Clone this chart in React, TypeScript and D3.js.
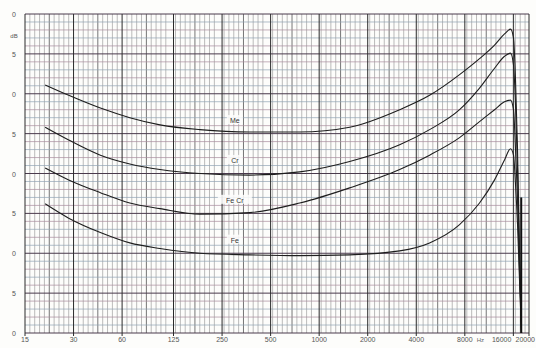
import React, { useEffect, useRef } from 'react';
import * as d3 from 'd3';

// frequency grid points (Hz) shared by the four traces
const freqs = [20, 28, 44, 67, 103, 182, 371, 758, 1546, 3155, 4838, 7422, 9870, 12230, 14100, 15360, 16030, 16500, 16980, 17460, 17970];
const meDb = [31.1, 29.8, 28.2, 27.0, 26.1, 25.5, 25.2, 25.2, 25.8, 28.0, 29.8, 32.4, 34.4, 36.1, 37.5, 38.1, 37.0, 31.7, 23.0, 10.4, 0];
const crDb = [25.8, 24.2, 22.3, 21.2, 20.5, 20.0, 19.8, 20.2, 21.5, 23.6, 25.5, 28.0, 30.7, 33.2, 34.7, 35.1, 33.6, 28.6, 20.5, 9.2, 0];
const feCrDb = [20.7, 19.2, 17.6, 16.3, 15.6, 14.9, 15.1, 16.3, 18.2, 20.5, 22.3, 24.5, 26.5, 28.0, 29.0, 29.2, 28.0, 23.0, 16.7, 7.9, 0];
const feDb = [16.2, 14.4, 12.6, 11.3, 10.6, 10.0, 9.8, 9.7, 9.8, 10.3, 11.3, 13.6, 16.3, 19.2, 21.7, 23.1, 22.3, 18.6, 13.6, 6.7, 0];

const seriesNames = ['Me', 'Cr', 'Fe Cr', 'Fe'];
const labelFreq = 300;
const labelDb = [26.7, 21.7, 16.7, 11.7];

const xTicks = [15, 30, 60, 125, 250, 500, 1000, 2000, 4000, 8000, 16000, 20000];
const xTickLabels = ['15', '30', '60', '125', '250', '500', '1000', '2000', '4000', '8000', '16000', '20000'];
const yTicks = [40, 35, 30, 25, 20, 15, 10, 5, 0];
const yTickLabels = ['0', '5', '0', '5', '0', '5', '0', '5', '0'];

// pen scribble at the top end of the paper
const tailFreq = 17900;
const tailTopDb = 17;

const App = () => {
  const chartRef = useRef<SVGSVGElement>(null);

  useEffect(() => {
    const svg = d3.select(chartRef.current);
    svg.selectAll('*').remove();

    const x = d3.scaleLog().domain([15, 20000]).range([25, 529]);
    const y = d3.scaleLinear().domain([0, 40]).range([333, 14]);

    svg.append('rect').attr('width', 536).attr('height', 348).attr('fill', '#fdfdfb');

    const grid = svg.append('g');

    // minor vertical lines, 10 per octave
    const minorF: number[] = [];
    for (let o = 0; o < 11; o++) {
      for (let k = 1; k < 10; k++) {
        const f = 15 * Math.pow(2, o + k / 10);
        if (f < 20000) minorF.push(f);
      }
    }
    grid
      .selectAll('line.vminor')
      .data(minorF)
      .enter()
      .append('line')
      .attr('x1', (d) => x(d))
      .attr('x2', (d) => x(d))
      .attr('y1', y(40))
      .attr('y2', y(0))
      .attr('stroke', (d, i) => (i % 9 === 4 ? '#666' : '#8f8f8f'))
      .attr('stroke-width', (d, i) => (i % 9 === 4 ? 0.9 : 0.6));

    // horizontal 1 dB lines
    grid
      .selectAll('line.h')
      .data(d3.range(0, 41))
      .enter()
      .append('line')
      .attr('x1', x(15))
      .attr('x2', x(20000))
      .attr('y1', (d) => y(d))
      .attr('y2', (d) => y(d))
      .attr('stroke', (d) => (d % 5 === 0 ? '#4a3a4c' : d % 2 === 0 ? '#a98c9d' : '#91a3b5'))
      .attr('stroke-width', (d) => (d % 5 === 0 ? 1 : 0.7));

    // octave lines
    grid
      .selectAll('line.vmajor')
      .data(xTicks)
      .enter()
      .append('line')
      .attr('x1', (d) => x(d))
      .attr('x2', (d) => x(d))
      .attr('y1', y(40))
      .attr('y2', y(0) + 3)
      .attr('stroke', '#2a2a2a')
      .attr('stroke-width', 1);

    // axis labels
    const last = xTicks.length - 1;
    svg
      .selectAll('text.xl')
      .data(xTicks)
      .enter()
      .append('text')
      .text((d, i) => xTickLabels[i])
      .attr('x', (d, i) => (i === last ? 535 : i === last - 1 ? x(d) - 2 : x(d)))
      .attr('y', 342)
      .attr('text-anchor', (d, i) => (i >= last - 1 ? 'end' : 'middle'))
      .attr('font-family', 'Liberation Sans, sans-serif')
      .attr('font-size', 7)
      .attr('fill', '#555');

    svg
      .append('text')
      .text('Hz')
      .attr('x', x(10000))
      .attr('y', 342)
      .attr('text-anchor', 'middle')
      .attr('font-family', 'Liberation Sans, sans-serif')
      .attr('font-size', 6)
      .attr('fill', '#666');

    svg
      .selectAll('text.yl')
      .data(yTicks)
      .enter()
      .append('text')
      .text((d, i) => yTickLabels[i])
      .attr('x', 14)
      .attr('y', (d) => y(d) + 3)
      .attr('text-anchor', 'middle')
      .attr('font-family', 'Liberation Sans, sans-serif')
      .attr('font-size', 7)
      .attr('fill', '#555');

    svg
      .append('text')
      .text('dB')
      .attr('x', 14)
      .attr('y', y(37.4) + 3)
      .attr('text-anchor', 'middle')
      .attr('font-family', 'Liberation Sans, sans-serif')
      .attr('font-size', 6)
      .attr('fill', '#555');

    // traces
    const all = [meDb, crDb, feCrDb, feDb];
    const line = d3
      .line<number>()
      .x((d, i) => x(freqs[i]))
      .y((d) => y(d))
      .curve(d3.curveMonotoneX);

    svg
      .selectAll('path.trace')
      .data(all)
      .enter()
      .append('path')
      .attr('d', (d) => line(d))
      .attr('fill', 'none')
      .attr('stroke', '#1e1e1e')
      .attr('stroke-width', 1.1);

    svg
      .append('line')
      .attr('x1', x(tailFreq))
      .attr('x2', x(tailFreq))
      .attr('y1', y(tailTopDb))
      .attr('y2', y(0))
      .attr('stroke', '#111')
      .attr('stroke-width', 2);

    // trace names
    const lab = svg
      .selectAll('g.lab')
      .data(seriesNames)
      .enter()
      .append('g')
      .attr('transform', (d, i) => `translate(${x(labelFreq)},${y(labelDb[i])})`);
    lab
      .append('rect')
      .attr('x', (d) => -d.length * 3 - 2)
      .attr('y', -5)
      .attr('width', (d) => d.length * 6 + 4)
      .attr('height', 9)
      .attr('fill', '#fdfdfb')
      .attr('opacity', 0.85);
    lab
      .append('text')
      .text((d) => d)
      .attr('y', 3)
      .attr('text-anchor', 'middle')
      .attr('font-family', 'Liberation Sans, sans-serif')
      .attr('font-size', 7)
      .attr('fill', '#333');
  }, []);

  return <svg ref={chartRef} width={536} height={348} style={{ position: 'absolute', left: 0, top: 0 }}></svg>;
};

export default App;
